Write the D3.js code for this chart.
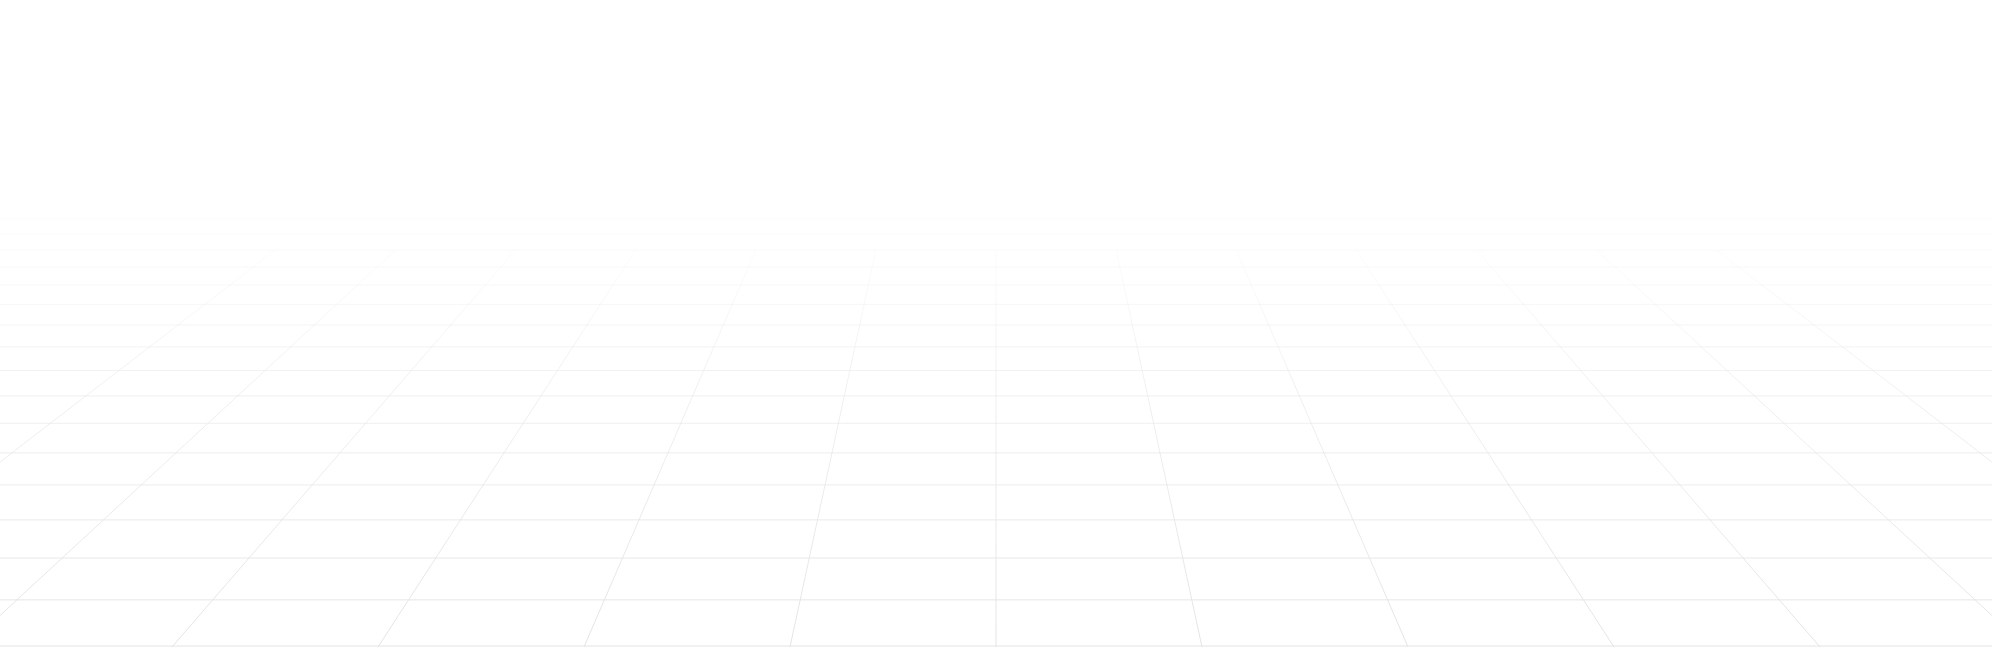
<!DOCTYPE html>
<html>
<head>
<meta charset="utf-8">
<script src="https://cdn.jsdelivr.net/npm/d3@7"></script>
<style>
  html, body { margin: 0; padding: 0; background: #fff; overflow: hidden; }
</style>
</head>
<body>
<div id="floor"></div>
<script>
// Grid indices (columns left/right of the centre line, rows counted from the bottom edge)
var columnIndex = [-6, -5, -4, -3, -2, -1, 0, 1, 2, 3, 4, 5, 6];
var rowIndex = [0, 1, 2, 3, 4, 5, 6, 7, 8, 9, 10, 11, 12, 13, 14, 15, 16, 17, 18, 19, 20, 21, 22];
// vertical lines stop at this row
var lastColumnRow = 14;

function drawFloor() {
    var width = 1992, height = 647;
    var horizon = -305;       // vanishing point y (above the page)
    var centerX = 996;        // vanishing point x
    var baseY = 646;          // row 0 sits here

    d3.select("#floor").selectAll("*").remove();

    var svg = d3.select("#floor").append("svg")
        .attr("width", width)
        .attr("height", height);

    // Fade masks toward the top of the floor
    var defs = svg.append("defs");
    function fade(id, from, mid) {
        var g = defs.append("linearGradient")
            .attr("id", id + "-grad")
            .attr("gradientUnits", "userSpaceOnUse")
            .attr("x1", 0).attr("x2", 0)
            .attr("y1", from).attr("y2", height);
        g.append("stop").attr("offset", 0).attr("stop-color", "#fff").attr("stop-opacity", 0);
        g.append("stop").attr("offset", mid).attr("stop-color", "#fff").attr("stop-opacity", 0.55);
        g.append("stop").attr("offset", 1).attr("stop-color", "#fff").attr("stop-opacity", 1);
        defs.append("mask").attr("id", id)
            .attr("maskUnits", "userSpaceOnUse")
            .attr("x", 0).attr("y", 0).attr("width", width).attr("height", height)
            .append("rect")
            .attr("width", width).attr("height", height)
            .attr("fill", "url(#" + id + "-grad)");
    }
    fade("fade-h", 178, 0.45);
    fade("fade-v", 215, 0.4);

    // Row depth: 1/(y - horizon) moves linearly with the row number
    var invDepth = d3.scaleLinear()
        .domain([0, 14])
        .range([1 / (baseY - horizon), 1 / (250 - horizon)]);
    var rowY = function(j) { return horizon + 1 / invDepth(j); };

    // Column position on the bottom row, then pulled toward the vanishing point
    var colX = d3.scaleLinear()
        .domain([0, 1])
        .range([centerX, centerX + 205.8]);
    var project = function(i, y) {
        return centerX + (colX(i) - centerX) * (y - horizon) / (baseY - horizon);
    };

    var topY = 150, bottomY = 700;
    var colTop = rowY(lastColumnRow);

    svg.append("g")
        .attr("mask", "url(#fade-h)")
        .selectAll("line")
        .data(rowIndex.filter(function(j) { return rowY(j) > topY; }))
        .enter().append("line")
        .attr("x1", 0)
        .attr("x2", width)
        .attr("y1", function(j) { return rowY(j); })
        .attr("y2", function(j) { return rowY(j); })
        .attr("stroke", "#e4e4e4")
        .attr("stroke-width", 1);

    svg.append("g")
        .attr("mask", "url(#fade-v)")
        .selectAll("line")
        .data(columnIndex)
        .enter().append("line")
        .attr("x1", function(i) { return project(i, bottomY); })
        .attr("y1", bottomY)
        .attr("x2", function(i) { return project(i, colTop); })
        .attr("y2", colTop)
        .attr("stroke", "#e4e4e4")
        .attr("stroke-width", 1);
}

drawFloor();
</script>
</body>
</html>
